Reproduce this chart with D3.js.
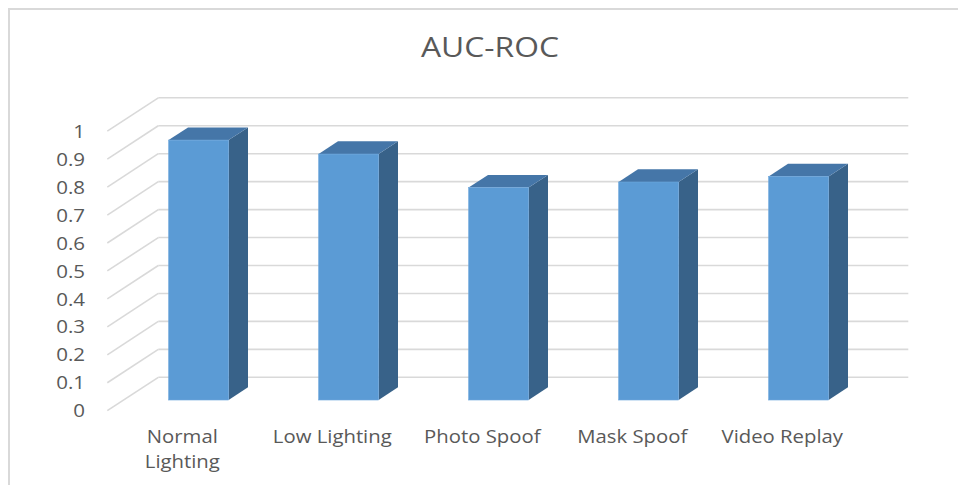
<!DOCTYPE html>
<html>
<head>
<meta charset="utf-8">
<script src="https://cdn.jsdelivr.net/npm/d3@7"></script>
<style>
  html, body { margin: 0; padding: 0; background: #ffffff; }
  svg { display: block; }
  text { font-family: "Open Sans", "Liberation Sans", sans-serif; fill: #595959; }
</style>
</head>
<body>
<svg id="chart" width="958" height="485"></svg>
<script>
// Chart data
const title = "AUC-ROC";
const categories = ["Normal Lighting", "Low Lighting", "Photo Spoof", "Mask Spoof", "Video Replay"];
const categoryLines = [["Normal", "Lighting"], ["Low Lighting"], ["Photo Spoof"], ["Mask Spoof"], ["Video Replay"]];
const aucValues = [0.93, 0.88, 0.76, 0.78, 0.80];
const yTicks = [0, 0.1, 0.2, 0.3, 0.4, 0.5, 0.6, 0.7, 0.8, 0.9, 1];
const yTickLabels = ["0", "0.1", "0.2", "0.3", "0.4", "0.5", "0.6", "0.7", "0.8", "0.9", "1"];

const svg = d3.select("#chart");

// Widen glyphs a little so the lettering reads as broad as a Calibri-style face
function widen(sel, k) {
  sel.each(function () {
    const w = this.getComputedTextLength();
    d3.select(this).attr("textLength", w * k).attr("lengthAdjust", "spacingAndGlyphs");
  });
}

// Frame (only top and left edges fall inside the canvas)
svg.append("rect")
  .attr("x", 9).attr("y", 9).attr("width", 1200).attr("height", 1200)
  .attr("fill", "none").attr("stroke", "#d9d9d9").attr("stroke-width", 2);

// 3D projection: front-left floor corner, depth vector
const origin = { x: 107.3, y: 410.7 };
const depth = { x: 51, y: -33.4 };
const plotW = 750, plotH = 279.5;

const x = d3.scaleBand().domain(categories).range([0, plotW])
  .paddingInner(0.6).paddingOuter(0.3);
const y = d3.scaleLinear().domain([0, 1]).range([0, plotH]);

function P(px, v, f) {
  return [origin.x + px + f * depth.x, origin.y - y(v) + f * depth.y];
}
const line = d3.line();

// Gridlines: left wall diagonals and back wall horizontals
const grid = svg.append("g").attr("fill", "none").attr("stroke", "#d9d9d9").attr("stroke-width", 1.6);
yTicks.forEach(v => {
  grid.append("path").attr("d", line([P(0, v, 0), P(0, v, 1)]));
  grid.append("path").attr("d", line([P(0, v, 1), P(plotW, v, 1)]));
});

// Y axis labels
const yAxisScale = d3.scaleLinear().domain([0, 1]).range([origin.y, origin.y - plotH]);
const yAxis = d3.axisLeft(yAxisScale)
  .tickValues(yTicks)
  .tickFormat((d, i) => yTickLabels[i])
  .tickSize(0).tickPadding(3);
const gy = svg.append("g").attr("transform", "translate(88,0)").call(yAxis);
gy.select(".domain").remove();
gy.selectAll("text")
  .attr("font-family", "Open Sans, sans-serif")
  .attr("font-size", 18)
  .attr("fill", "#595959")
  .attr("dy", "0.34em");
widen(gy.selectAll("text"), 1.14);

// Bars
const f0 = 0.32, f1 = 0.70;
const bars = svg.append("g");
categories.forEach((c, i) => {
  const v = aucValues[i];
  const x0 = x(c), x1 = x(c) + x.bandwidth();
  // side face
  bars.append("path")
    .attr("d", line([P(x1, 0, f0), P(x1, v, f0), P(x1, v, f1), P(x1, 0, f1)]) + "Z")
    .attr("fill", "#386289");
  // top face
  bars.append("path")
    .attr("d", line([P(x0, v, f0), P(x1, v, f0), P(x1, v, f1), P(x0, v, f1)]) + "Z")
    .attr("fill", "#4576a8");
  // front face
  const a = P(x0, v, f0), b = P(x1, 0, f0);
  bars.append("rect")
    .attr("x", a[0]).attr("y", a[1])
    .attr("width", b[0] - a[0]).attr("height", b[1] - a[1])
    .attr("fill", "#5b9bd5")
    .attr("stroke", "#6fa8dc").attr("stroke-width", 0.6);
});

// Category labels
const xl = svg.append("g");
categories.forEach((c, i) => {
  const cx = origin.x + x(c) + x.bandwidth() / 2;
  const t = xl.append("text")
    .attr("x", cx).attr("y", 443)
    .attr("text-anchor", "middle")
    .attr("font-size", 17.5);
  categoryLines[i].forEach((ln, j) => {
    t.append("tspan").attr("x", cx).attr("dy", j === 0 ? 0 : 25).text(ln);
  });
});
widen(xl.selectAll("tspan"), 1.16);

// Title
svg.append("text")
  .attr("x", 490).attr("y", 57)
  .attr("text-anchor", "middle")
  .attr("font-size", 28)
  .attr("textLength", 138)
  .attr("lengthAdjust", "spacingAndGlyphs")
  .text(title);
</script>
</body>
</html>
